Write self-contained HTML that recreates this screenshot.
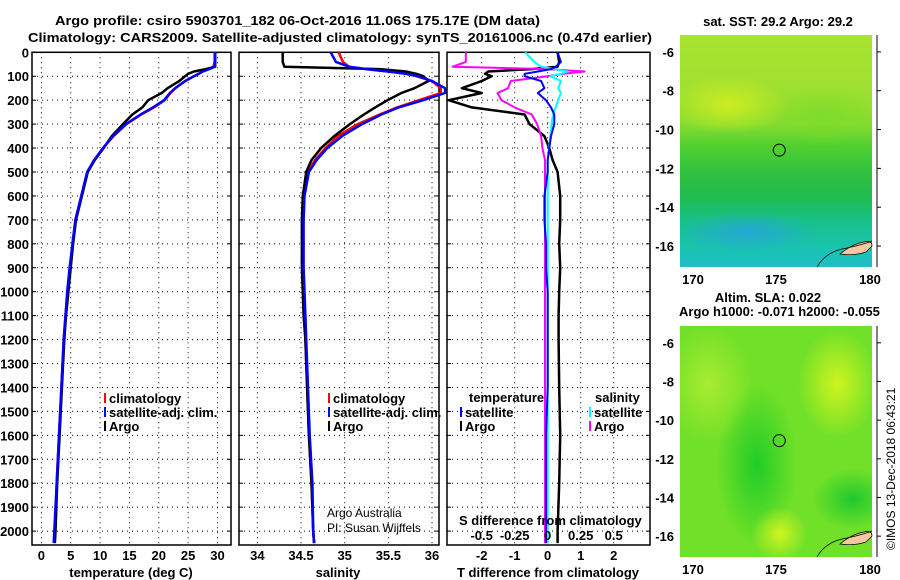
<!DOCTYPE html>
<html><head><meta charset="utf-8"><style>
html,body{margin:0;padding:0;background:#fff;}
svg{display:block;font-family:"Liberation Sans",sans-serif;}
.t{font-weight:bold;font-size:13px;fill:#000;}
</style></head><body>
<svg id="c" width="900" height="580" viewBox="0 0 900 580" xmlns="http://www.w3.org/2000/svg">
<text class="t" x="55" y="25" textLength="485" lengthAdjust="spacingAndGlyphs">Argo profile: csiro 5903701_182 06-Oct-2016 11.06S 175.17E (DM data)</text>
<text class="t" x="28" y="42" textLength="624" lengthAdjust="spacingAndGlyphs">Climatology: CARS2009. Satellite-adjusted climatology: synTS_20161006.nc (0.47d earlier)</text>
<g id="plots"></g>
<g id="maps"></g>
<text x="895" y="550" transform="rotate(-90 895 550)" font-size="12">©IMOS 13-Dec-2018 06:43:21</text>
</svg>
<script>
// ===== data =====
const depthTicks = [0,100,200,300,400,500,600,700,800,900,1000,1100,1200,1300,1400,1500,1600,1700,1800,1900,2000];
const tTicks = [0,5,10,15,20,25,30];
const sTicks = [34,34.5,35,35.5,36];
const sTickLabels = ["34","34.5","35","35.5","36"];
const dTicks = [-2,-1,0,1,2];
const dsTicks = [-0.5,-0.25,0,0.25,0.5];
const dsTickLabels = ["-0.5","-0.25","0","0.25","0.5"];

const pDepth = [0,40,60,70,80,90,100,120,150,170,200,230,260,300,350,400,450,500,600,700,800,900,1000,1100,1200,1400,1600,1800,2000,2050];
// temperature
const tClim = [29.5,29.5,29.3,28.5,27.5,26.8,26.0,24.5,22.8,22.0,21.0,19.2,17.0,14.5,12.3,10.5,9.0,7.8,6.8,5.8,5.3,4.9,4.5,4.1,3.8,3.4,3.0,2.6,2.3,2.2];
const tSat  = [29.6,29.6,29.5,28.6,27.5,26.8,26.0,24.5,22.8,21.9,20.9,19.0,16.9,14.4,12.2,10.5,9.0,7.8,6.8,5.8,5.3,4.8,4.4,4.1,3.8,3.4,3.0,2.6,2.2,2.1];
const tArgo = [29.6,29.6,29.6,28.0,26.0,25.0,24.5,23.5,21.5,20.5,18.2,17.2,15.5,13.9,12.0,10.6,9.1,7.9,6.9,5.9,5.4,5.0,4.6,4.2,3.9,3.5,3.1,2.7,2.4,2.3];
// salinity
const sClim = [34.93,34.98,35.05,35.25,35.50,35.70,35.82,36.00,36.10,36.10,35.85,35.60,35.40,35.15,34.92,34.78,34.66,34.58,34.53,34.52,34.52,34.52,34.53,34.54,34.55,34.57,34.59,34.62,34.64,34.65];
const sSat  = [34.84,34.90,35.05,35.25,35.50,35.70,35.84,36.00,36.15,36.15,35.90,35.62,35.42,35.20,34.97,34.80,34.68,34.59,34.54,34.53,34.53,34.53,34.54,34.55,34.56,34.58,34.60,34.63,34.64,34.65];
const sArgo = [34.29,34.29,34.31,35.40,35.70,35.82,35.90,35.96,35.80,35.65,35.49,35.35,35.22,35.06,34.88,34.73,34.62,34.56,34.52,34.51,34.51,34.51,34.52,34.53,34.55,34.57,34.59,34.62,34.64,34.65];
// differences
const dTArgo = [0.30,0.35,0.30,-0.50,-1.80,-1.90,-1.70,-2.00,-2.60,-2.00,-3.00,-2.30,-0.70,-0.55,-0.10,0.05,0.15,0.30,0.38,0.38,0.35,0.38,0.35,0.33,0.33,0.35,0.38,0.35,0.30,0.30];
const dTSat = [0.30,0.40,0.25,0.10,-0.30,-0.70,-0.70,-0.20,-0.10,-0.30,-0.05,0.10,0.20,0.20,0.10,0.05,0.00,0.00,-0.10,-0.10,-0.05,-0.05,0.00,0.00,0.00,0.00,-0.05,-0.05,-0.05,-0.05];
const dSArgo = [-0.62,-0.62,-0.72,0.00,0.28,0.12,0.00,-0.28,-0.30,-0.38,-0.35,-0.25,-0.12,-0.08,-0.05,-0.04,-0.02,-0.02,-0.02,-0.02,-0.02,-0.02,-0.02,-0.02,-0.02,-0.02,-0.02,-0.02,-0.02,-0.02];
const dSSat = [-0.17,-0.10,-0.05,0.05,0.15,0.10,0.02,0.10,0.08,0.10,0.08,0.06,0.04,0.03,0.02,0.01,0.00,0.00,0.00,0.00,0.00,0.00,0.00,0.00,0.00,0.00,0.00,0.00,0.00,0.00];

// map labels
const lonTicks = [170,175,180];
const latTicks = [-6,-8,-10,-12,-14,-16];

// ===== drawing =====
const NS = "http://www.w3.org/2000/svg";
function mk(tag, attrs, parent){const e=document.createElementNS(NS,tag);for(const k in attrs)e.setAttribute(k,attrs[k]);parent.appendChild(e);return e;}
const plots = document.getElementById('plots');
const yTop = 52.3, yScale = 0.2394;
function yD(d){return yTop + d*yScale;}
const yBot = 545;

function panel(name, x0, x1, vmin, vmax, ticks, labels){
  const g = mk('g',{},plots);
  
  
  const xf = v => x0 + (v - vmin)/(vmax - vmin)*(x1 - x0);
  ticks.forEach((t,i)=>{
    const x = xf(t);
    const l = mk('line',{x1:x,x2:x,y1:yTop,y2:yBot,stroke:'#000','stroke-width':1,'stroke-dasharray':'1 4'},g);
    
    
    const tl = mk('text',{x:x,y:560,'text-anchor':'middle',class:'t'},g);
    
    
    tl.textContent = labels ? labels[i] : String(t);
  });
  depthTicks.forEach(d=>{
    if(d>0){
      const l = mk('line',{x1:x0,x2:x1,y1:yD(d),y2:yD(d),stroke:'#000','stroke-width':1,'stroke-dasharray':'1 4'},g);
      
      
    }
    mk('line',{x1:x0,x2:x0+4,y1:yD(d),y2:yD(d),stroke:'#000'},g);
    mk('line',{x1:x1-4,x2:x1,y1:yD(d),y2:yD(d),stroke:'#000'},g);
  });
  const r = mk('rect',{x:x0,y:yTop,width:x1-x0,height:yBot-yTop,fill:'none',stroke:'#000','stroke-width':1.5},g);
  
  
  return {g, xf};
}
function series(p, vals, color, name, w){
  const pts = vals.map((v,i)=>p.xf(v).toFixed(1)+','+yD(pDepth[i]).toFixed(1)).join(' ');
  const pl = mk('polyline',{points:pts,fill:'none',stroke:color,'stroke-width':w||2.5,'stroke-linejoin':'round'},p.g);
  
  
}
function legend(g, x, y, color, label){
  const l = mk('line',{x1:x,x2:x,y1:y-10,y2:y,stroke:color,'stroke-width':2},g);
  
  
  const t = mk('text',{x:x+4,y:y,class:'t'},g);
  
  
  t.textContent = label;
}
function txt(g,x,y,s,name,extra){
  const t = mk('text',Object.assign({x:x,y:y,class:'t'},extra||{}),g);
  
  
  t.textContent = s; return t;
}

depthTicks.forEach(d=>{
  const t = mk('text',{x:29,y:yD(d)+5,'text-anchor':'end',class:'t'},plots);
  
  
  t.textContent = d;
});

const p1 = panel('temperature-panel', 32, 231, -1.6, 32.3, tTicks);
series(p1, tClim, '#ff0000', 'temperature-climatology-line');
series(p1, tArgo, '#000000', 'temperature-argo-line');
series(p1, tSat, '#0000ff', 'temperature-satellite-line');
legend(p1.g,105,403,'#ff0000','climatology');
legend(p1.g,105,417,'#0000ff','satellite-adj. clim.');
legend(p1.g,105,431,'#000000','Argo');
txt(p1.g,131,577,'temperature (deg C)','x-axis-title-temperature',{'text-anchor':'middle'});

const p2 = panel('salinity-panel', 239, 439, 33.79, 36.08, sTicks, sTickLabels);
series(p2, sClim, '#ff0000', 'salinity-climatology-line');
series(p2, sArgo, '#000000', 'salinity-argo-line');
series(p2, sSat, '#0000ff', 'salinity-satellite-line');
legend(p2.g,329,403,'#ff0000','climatology');
legend(p2.g,329,417,'#0000ff','satellite-adj. clim.');
legend(p2.g,329,431,'#000000','Argo');
txt(p2.g,338,577,'salinity','x-axis-title-salinity',{'text-anchor':'middle'});
const a1 = txt(p2.g,327,517,'Argo Australia','credit-argo-australia'); a1.setAttribute('class',''); a1.setAttribute('font-size','12');
const a2 = txt(p2.g,327,532,'PI: Susan Wijffels','credit-pi'); a2.setAttribute('class',''); a2.setAttribute('font-size','12');

const p3 = panel('difference-panel', 447, 650, -3.05, 3.1, dTicks);
series(p3, dTArgo, '#000000', 'temp-diff-argo-line');
series(p3, dSArgo.map(v=>v*4), '#ff00ff', 'sal-diff-argo-line', 2);
series(p3, dSSat.map(v=>v*4), '#00ffff', 'sal-diff-satellite-line', 2);
series(p3, dTSat, '#0000ff', 'temp-diff-satellite-line', 2);
txt(p3.g,469,402,'temperature','legend-title-temperature');
legend(p3.g,461,417,'#0000ff','satellite');
legend(p3.g,461,431,'#000000','Argo');
txt(p3.g,595,402,'salinity','legend-title-salinity');
legend(p3.g,590,417,'#00ffff','satellite');
legend(p3.g,590,431,'#ff00ff','Argo');
txt(p3.g,459,525,'S difference from climatology','s-axis-title');
dsTicks.forEach((v,i)=>{
  txt(p3.g,p3.xf(v*4),540,dsTickLabels[i],'s-tick-label',{'text-anchor':'middle'});
});
txt(p3.g,548,577,'T difference from climatology','x-axis-title-tdiff',{'text-anchor':'middle'});

// ===== maps =====
const maps = document.getElementById('maps');
function mapPanel(name, y0, y1, bg){
  const x0=680, x1=872;
  const g = mk('g',{},maps);
  
  
  const fo = mk('foreignObject',{x:x0,y:y0,width:x1-x0,height:y1-y0},g);
  const d = document.createElement('div');
  d.style.cssText = 'width:100%;height:100%;background:'+bg;
  fo.appendChild(d);
  const lonX = v => x0 + (v-170)/10*(x1-x0);
  const latY = v => y0 + (v-(-5.13))/(-17.08+5.13)*(y1-y0);
  mk('line',{x1:877,x2:877,y1:y0,y2:y1,stroke:'#000'},g);
  lonTicks.forEach(v=>{
    txt(g,lonX(v)+(v==180?-2:(v==170?13:0)),y1+17,String(v),'lon-tick-label',{'text-anchor':'middle'});
  });
  latTicks.forEach(v=>{
    txt(g,674,latY(v)+5,String(v),'lat-tick-label',{'text-anchor':'end'});
    mk('line',{x1:877,x2:881,y1:latY(v),y2:latY(v),stroke:'#000'},g);
  });
  const isl = mk('path',{d:`M${x1-32},${y1-13} q12,-10 24,-12 q8,-2 8,4 l-6,6 q-12,4 -26,2z`,fill:'#f5c8a0',stroke:'#000','stroke-width':0.7},g);
  
  
  mk('path',{d:`M${x1-55},${y1} q8,-14 25,-18 q20,-4 30,-8`,fill:'none',stroke:'#000','stroke-width':0.7},g);
  const c = mk('circle',{cx:lonX(175.17),cy:latY(-11.06),r:6,fill:'none',stroke:'#000','stroke-width':1},g);
  
  
  return g;
}
mapPanel('sst-map', 35, 267, 'radial-gradient(ellipse 70px 20px at 35% 85%,rgba(40,160,230,0.8),rgba(40,160,230,0) 100%),radial-gradient(ellipse 50px 30px at 75% 35%,rgba(120,220,40,0.7),rgba(120,220,40,0) 100%),radial-gradient(ellipse 60px 30px at 25% 30%,rgba(220,240,30,0.8),rgba(220,240,30,0) 100%),linear-gradient(180deg,#a8e430 0%,#a0e030 22%,#88dc30 38%,#50d030 48%,#30c040 60%,#20bc50 70%,#18c088 80%,#18c4b0 92%,#20bcc8 100%)');
txt(maps,778,26,'sat. SST: 29.2 Argo: 29.2','sst-map-title',{'text-anchor':'middle'});
mapPanel('sla-map', 326, 557, 'radial-gradient(ellipse 40px 55px at 82% 25%,#d0f420,rgba(200,240,30,0) 100%),radial-gradient(ellipse 28px 28px at 52% 90%,#d0f420,rgba(200,240,30,0) 100%),radial-gradient(ellipse 45px 60px at 15% 25%,#a8ec30,rgba(168,236,48,0) 100%),radial-gradient(ellipse 40px 80px at 40% 60%,#20cc28,rgba(32,204,40,0) 100%),radial-gradient(ellipse 40px 30px at 90% 75%,#20c830,rgba(32,200,48,0) 100%),#70e028');
txt(maps,768,302,'Altim. SLA: 0.022','sla-map-title',{'text-anchor':'middle'});
txt(maps,679,316,'Argo h1000: -0.071 h2000: -0.055','sla-map-subtitle');
</script>
</body></html>
